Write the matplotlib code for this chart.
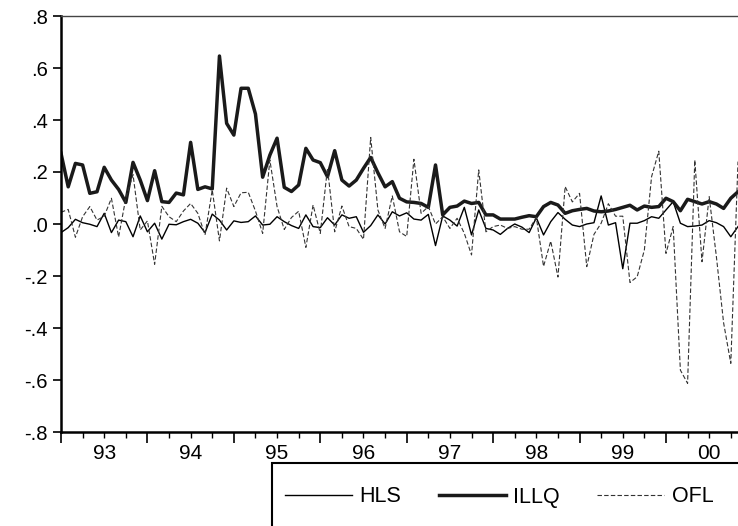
import numpy as np
import matplotlib.pyplot as plt
from matplotlib.patches import Rectangle
from matplotlib.ticker import MultipleLocator, FixedLocator, FuncFormatter, NullFormatter

plt.rcParams["font.family"] = ["Liberation Sans", "DejaVu Sans"]

# monthly series, 1993M01 onward
hls = [-0.033, -0.014, 0.018, 0.005, -0.001, -0.010, 0.041, -0.033, 0.015, 0.009,
       -0.049, 0.031, -0.030, 0.003, -0.058, -0.001, -0.003,
       0.009, 0.018, 0.003, -0.033, 0.038, 0.015, -0.023, 0.012, 0.006, 0.009,
       0.031, -0.004, -0.001, 0.028, 0.009, -0.006,
       -0.017, 0.035, -0.010, -0.014, 0.024, -0.004, 0.035, 0.022, 0.028, -0.032,
       -0.006, 0.035, 0.000, 0.047, 0.031, 0.043,
       0.019, 0.015, 0.037, -0.083, 0.031, 0.015, -0.008, 0.064, -0.042, 0.054,
       -0.017, -0.023, -0.040, -0.017, 0.000, -0.012,
       -0.033, 0.024, -0.042, 0.009, 0.044, 0.018, -0.004, -0.010, 0.000, 0.005,
       0.108, -0.004, 0.005, -0.172, 0.003,
       0.003, 0.013, 0.028, 0.022, 0.054, 0.086, 0.003, -0.010, -0.008, -0.004,
       0.013, 0.005, -0.010, -0.049, -0.010]

illq = [0.272, 0.143, 0.233, 0.227, 0.118, 0.124, 0.218, 0.169, 0.133, 0.083,
        0.237, 0.169, 0.090, 0.205, 0.086, 0.083, 0.119,
        0.112, 0.314, 0.133, 0.143, 0.135, 0.646, 0.387, 0.342, 0.522, 0.522,
        0.423, 0.180, 0.265, 0.330, 0.141, 0.125,
        0.150, 0.291, 0.246, 0.236, 0.182, 0.282, 0.169, 0.146, 0.169, 0.214,
        0.256, 0.197, 0.143, 0.163, 0.099, 0.085,
        0.083, 0.079, 0.064, 0.227, 0.035, 0.064, 0.069, 0.088, 0.079, 0.083,
        0.035, 0.035, 0.019, 0.019, 0.019, 0.026,
        0.032, 0.028, 0.067, 0.083, 0.073, 0.041, 0.051, 0.056, 0.060, 0.050,
        0.047, 0.050, 0.056, 0.064, 0.072,
        0.054, 0.069, 0.064, 0.067, 0.099, 0.086, 0.051, 0.095, 0.086, 0.077,
        0.086, 0.077, 0.060, 0.099, 0.124]

ofl = [0.045, 0.056, -0.051, 0.028, 0.067, 0.015, 0.030, 0.099, -0.050, 0.100,
       0.190, -0.023, 0.012, -0.155, 0.068, 0.028, 0.009,
       0.050, 0.079, 0.041, -0.042, 0.131, -0.065, 0.138, 0.067, 0.120, 0.122,
       0.050, -0.036, 0.246, 0.067, -0.021, 0.025,
       0.049, -0.090, 0.073, -0.036, 0.214, -0.030, 0.069, -0.010, -0.017, -0.059,
       0.333, 0.054, -0.017, 0.108, -0.030, -0.048,
       0.249, 0.041, 0.067, 0.000, 0.028, -0.017, 0.022, -0.036, -0.119, 0.208,
       -0.030, -0.010, -0.004, -0.017, -0.010, -0.020,
       -0.020, 0.025, -0.163, -0.066, -0.204, 0.144, 0.085, 0.118, -0.164, -0.040,
       0.003, 0.078, 0.030, 0.030, -0.225,
       -0.203, -0.100, 0.182, 0.280, -0.113, -0.010, -0.562, -0.613, 0.246, -0.145,
       0.105, -0.126, -0.380, -0.536, 0.240]

start_year = 1993
years = [1993, 1994, 1995, 1996, 1997, 1998, 1999, 2000]
year_labels = ['93', '94', '95', '96', '97', '98', '99', '00']

t = start_year + np.arange(len(hls)) / 12.0

fig = plt.figure(figsize=(7.38, 5.26), dpi=100)
ax = fig.add_axes([61 / 738, 1 - 432 / 526, 677 / 738, 416 / 526])

ax.plot(t, hls, color='black', lw=1.0, label='HLS')
ax.plot(t, illq, color='#1a1a1a', lw=2.5, label='ILLQ')
ax.plot(t, ofl, color='#333333', lw=0.8, dashes=(4, 2), label='OFL')

ax.set_xlim(t[0], t[-1])
ax.set_ylim(-0.8, 0.8)

ax.yaxis.set_major_locator(MultipleLocator(0.2))
def ylab(v, pos):
    s = '%.1f' % (round(v, 1) + 0.0)
    return s.replace('0.', '.')
ax.yaxis.set_major_formatter(FuncFormatter(ylab))

lab = {y + 0.5: l for y, l in zip(years, year_labels)}
ax.xaxis.set_major_locator(FixedLocator(years))
ax.xaxis.set_major_formatter(NullFormatter())
ax.xaxis.set_minor_locator(MultipleLocator(0.25))
def xlab(v, pos):
    for k, l in lab.items():
        if abs(v - k) < 1e-6:
            return l
    return ''
ax.xaxis.set_minor_formatter(FuncFormatter(xlab))

ax.tick_params(axis='x', which='major', direction='out', length=8, width=1.2)
ax.tick_params(axis='x', which='minor', direction='out', length=4.5, width=1.0,
               labelsize=15, pad=4)
ax.tick_params(axis='y', which='major', direction='out', length=5.5, width=1.2,
               labelsize=14.5, pad=4)

ax.spines['right'].set_visible(False)
ax.spines['left'].set_linewidth(1.8)
ax.spines['bottom'].set_linewidth(1.8)
ax.spines['top'].set_linewidth(1.0)
ax.spines['top'].set_color('#444444')

# legend box runs off the right and bottom edges, as in the original
box = Rectangle((272 / 738, -0.1), 1.0, 0.1 + (526 - 463) / 526,
                transform=fig.transFigure, fill=False, edgecolor='black',
                lw=1.5, clip_on=False)
fig.patches.append(box)
leg = fig.legend(loc='center left', bbox_to_anchor=(285 / 738, 1 - 497 / 526),
                 ncol=3, fontsize=15.5, frameon=False,
                 handlelength=3.1, handletextpad=0.35,
                 columnspacing=1.75, borderpad=0, borderaxespad=0)

fig.savefig('out.png', dpi=100)
